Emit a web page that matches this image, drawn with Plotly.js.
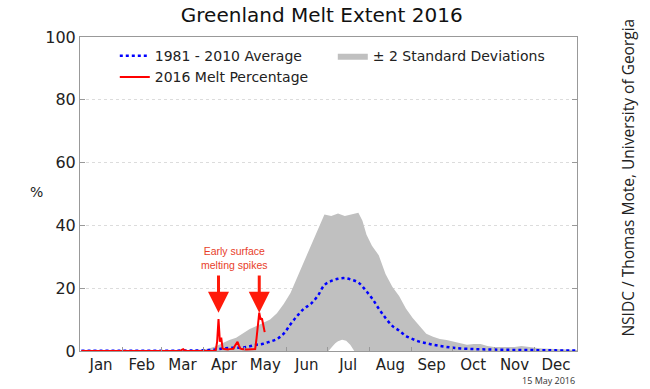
<!DOCTYPE html>
<html>
<head>
<meta charset="utf-8">
<script src="https://cdn.plot.ly/plotly-3.0.1.min.js"></script>
<style>html,body{margin:0;padding:0;background:#fff;}#chart{width:650px;height:389px;}</style>
</head>
<body>
<div id="chart"></div>
<script>
// Month labels and boundaries (day of year, 2016 leap year)
const monthNames = ["Jan","Feb","Mar","Apr","May","Jun","Jul","Aug","Sep","Oct","Nov","Dec"];
const monthStarts = [0,31,60,91,121,152,182,213,244,274,305,335,366];

// 1981-2010 average (day of year, percent)
const avgDays = [1,30,60,90,95,100,105,110,115,120,125,130,135,140,145,150,155,160,165,170,175,180,185,190,195,200,205,210,215,220,225,230,235,240,245,250,255,260,265,270,275,280,290,300,310,320,330,340,350,366];
const avgVals = [0.1,0.1,0.1,0.2,0.3,0.5,0.8,1.0,1.0,1.1,1.5,2.0,2.3,3.0,3.8,5.5,8.5,11.2,13.5,15.0,17.5,21.0,22.3,23.0,23.2,22.7,21.8,19.5,16.8,13.5,10.5,8.0,6.5,4.8,3.8,3.0,2.5,2.0,1.6,1.3,1.0,0.8,0.6,0.5,0.4,0.35,0.3,0.25,0.2,0.15];

// +2 standard deviations (upper edge of band)
const upDays = [1,30,60,80,90,95,100,105,110,115,120,125,130,135,140,145,150,155,160,165,170,175,180,185,190,195,200,205,208,211,215,220,225,230,235,240,245,250,255,260,265,270,275,280,285,290,295,300,305,310,320,325,330,335,340,350,360,366];
const upVals = [0.2,0.2,0.2,0.3,0.5,0.8,1.5,2.5,3.5,4.2,5.5,7.0,8.0,9.0,10.0,12.0,15.0,18.5,23.5,29.0,33.5,38.5,43.5,43.0,43.8,43.0,43.5,44.0,41.5,37.0,33.5,30.5,24.5,20.5,17.5,13.5,10.5,8.0,5.5,4.5,3.8,3.5,3.0,2.5,2.0,2.2,2.2,1.6,1.3,1.3,1.3,1.6,1.3,1.0,0.8,0.6,0.4,0.3];

// -2 standard deviations (lower edge of band)
const lowDays = [1,183,186,188,190,193,196,199,202,366];
const lowVals = [0,0,1.5,2.5,3.1,3.6,3.3,2.0,0,0];

// 2016 melt percentage, days 1..136
const meltVals = [
  0,0,0,0,0,0,0,0,0,0, 0,0,0,0,0,0,0,0,0,0,
  0,0,0,0,0,0,0,0,0,0, 0,0,0,0,0,0,0,0,0,0,
  0,0,0,0,0,0,0,0,0,0, 0,0,0,0,0,0,0,0,0,0,
  0,0,0,0,0,0,0,0,0,0, 0,0,0,0,0.4,0.6,0.2,0,0,0,
  0,0,0,0,0,0,0,0,0,0, 0,0,0,0,0,0,0,0,0.1,0.3,
  3.0,10.2,3.0,4.3,0.8,0.6,0.5,0.6,0.5,0.6, 0.6,0.7,0.7,1.6,2.5,2.9,1.8,0.8,0.6,0.5,
  0.4,0.5,0.5,0.5,0.4,0.5,0.5,0.6,0.6,4.0, 9.0,12.2,10.0,10.4,8.2,6.0
];
const meltDays = meltVals.map((v,i)=>i+1);

const monthMids = monthNames.map((m,i)=>(monthStarts[i]+monthStarts[i+1])/2);

// Annotated spike days
const spikeDays = [102, 132];

const traces = [
  {x: lowDays, y: lowVals, type:'scatter', mode:'lines', line:{width:0, color:'rgba(0,0,0,0)'}, showlegend:false, hoverinfo:'skip'},
  {x: upDays, y: upVals, type:'scatter', mode:'lines', fill:'tonexty', fillcolor:'#c0c0c0', line:{width:0, color:'#c0c0c0'}, name:'± 2 Standard Deviations', legendrank:2},
  {x: avgDays, y: avgVals, type:'scatter', mode:'lines', line:{color:'#0000ff', width:2.5, dash:'dot', shape:'spline'}, name:'1981 - 2010 Average', legendrank:1},
  {x: meltDays, y: meltVals, type:'scatter', mode:'lines', line:{color:'#ff0000', width:2}, name:'2016 Melt Percentage', legendrank:3}
];

const annRed = '#ff1a0a';
const annotations = [
  {xref:'paper', yref:'paper', x:-0.088, xanchor:'center', y:0.505, text:'%', showarrow:false, font:{size:14, color:'#222'}},
  {xref:'paper', yref:'paper', x:1.103, xanchor:'center', y:0.553, text:'NSIDC / Thomas Mote, University of Georgia', textangle:-90, showarrow:false, font:{family:'Open Sans', size:15.5, color:'#222'}},
  {xref:'paper', yref:'paper', x:1.0, xanchor:'right', y:-0.095, yanchor:'middle', text:'15 May 2016', showarrow:false, font:{family:'Open Sans', size:9, color:'#333'}},
  {xref:'x', yref:'y', x:(spikeDays[0]+spikeDays[1])/2-3, y:29.5, text:'Early surface<br>melting spikes', showarrow:false, font:{family:'Liberation Sans', size:10.5, color:'#e8402a'}}
];
spikeDays.forEach(d=>{
  annotations.push({xref:'x', yref:'y', x:d, y:12.2, axref:'x', ayref:'y', ax:d, ay:24.5, text:'', showarrow:true, arrowhead:2, arrowsize:1.4, arrowwidth:3, arrowcolor:annRed, standoff:0});
});

const layout = {
  width:650, height:389,
  margin:{l:80, r:73, t:37, b:38},
  paper_bgcolor:'#fff', plot_bgcolor:'#fff',
  font:{family:'DejaVu Sans', color:'#222'},
  title:{text:'Greenland Melt Extent 2016', font:{family:'DejaVu Sans', size:20, color:'#111'}, x:0.495, xref:'container', y:0.962, yref:'container', yanchor:'middle'},
  xaxis:{range:[0,366], tickmode:'array', tickvals:monthMids, ticktext:monthNames, ticks:'', showgrid:false, zeroline:false,
         showline:true, linecolor:'#999', linewidth:1, mirror:true, tickfont:{size:15, color:'#222'},
         minor:{tickmode:'array', tickvals:monthStarts.slice(1,12), ticks:'inside', ticklen:4, tickcolor:'#999', showgrid:false}},
  yaxis:{range:[0,100], tickvals:[0,20,40,60,80,100], ticks:'inside', ticklen:5, tickcolor:'#999', showline:true, linecolor:'#999', linewidth:1, mirror:'ticks',
         showgrid:true, gridcolor:'#dcdcdc', griddash:'dot', gridwidth:1, zeroline:false, tickfont:{size:16, color:'#222'}},
  legend:{orientation:'h', traceorder:'normal', x:0.07, xanchor:'left', y:0.99, yanchor:'top', entrywidth:173, entrywidthmode:'pixels', bgcolor:'rgba(0,0,0,0)', font:{size:14, color:'#222'}, tracegroupgap:0},
  showlegend:true,
  annotations: annotations
};

Plotly.newPlot('chart', traces, layout, {displayModeBar:false, staticPlot:true});
</script>
</body>
</html>
